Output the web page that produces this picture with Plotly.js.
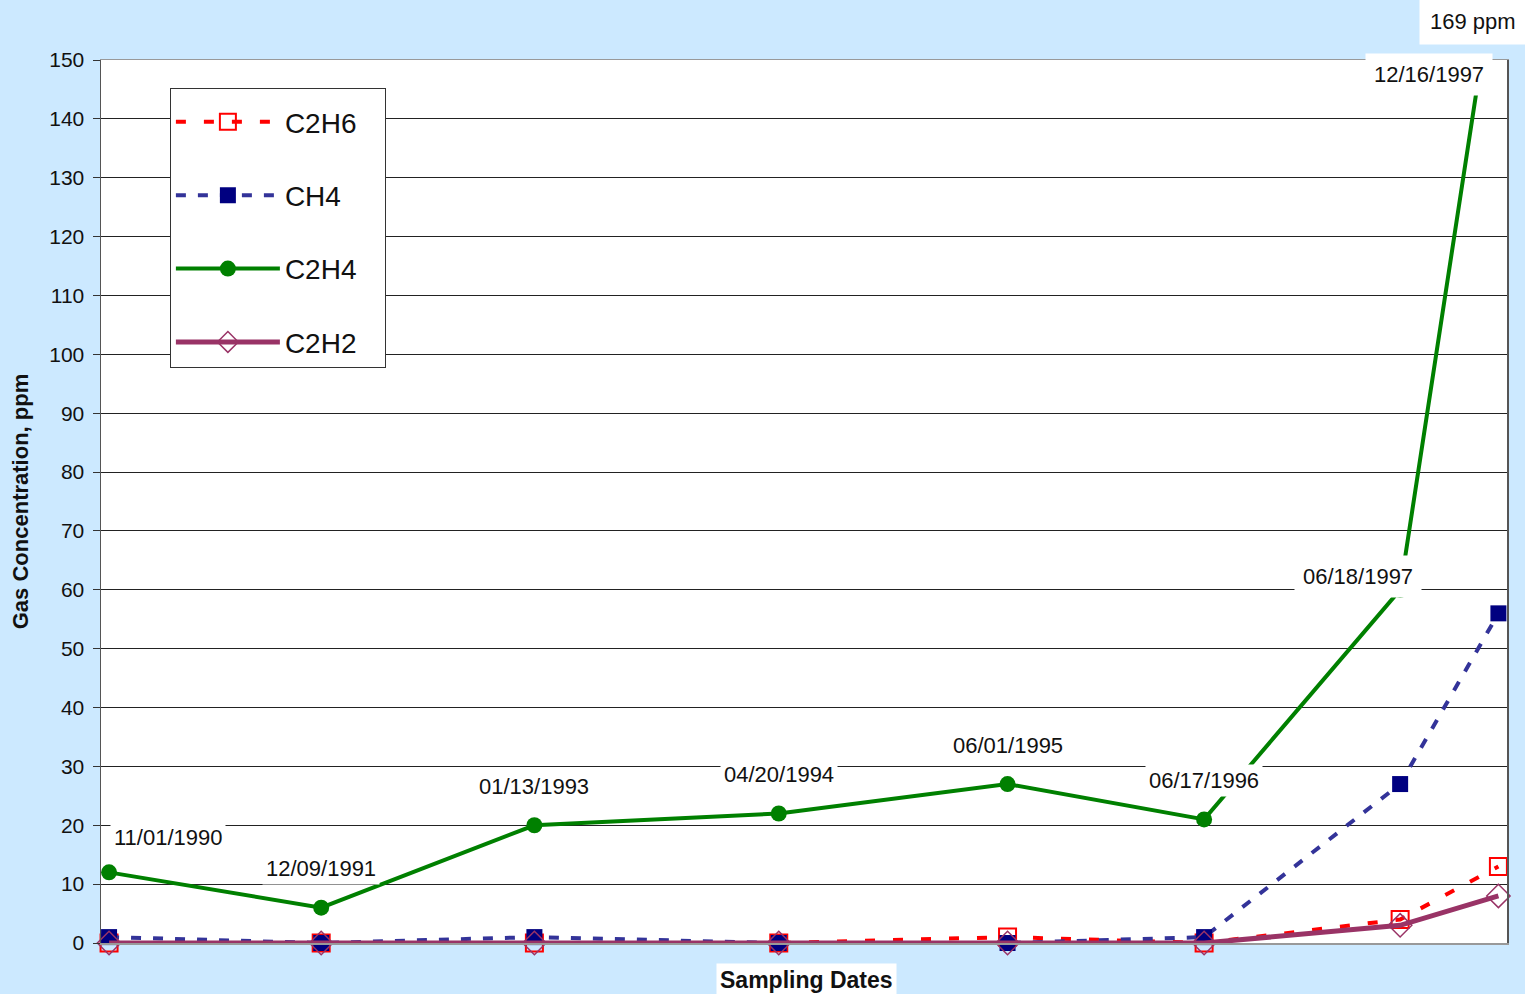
<!DOCTYPE html>
<html>
<head>
<meta charset="utf-8">
<script src="https://cdn.plot.ly/plotly-3.0.1.min.js"></script>
<style>
  html, body { margin: 0; padding: 0; background: #CCE9FF; }
  #chart { width: 1525px; height: 994px; }
</style>
</head>
<body>
<div id="chart"></div>
<script>
// Sampling dates (as printed) and the month each sample falls in.
// The time axis uses a monthly base unit, so each point sits mid-month.
const sampleDates = ['11/01/1990', '12/09/1991', '01/13/1993', '04/20/1994',
                     '06/01/1995', '06/17/1996', '06/18/1997', '12/16/1997'];
const sampleMonths = ['1990-11-16', '1991-12-16', '1993-01-16', '1994-04-16',
                      '1995-06-16', '1996-06-16', '1997-06-16', '1997-12-16'];

// Dissolved gas concentrations, ppm
const c2h6 = [0, 0, 0, 0, 1, 0, 4, 13];
const ch4  = [1, 0, 1, 0, 0, 1, 27, 56];
const c2h4 = [12, 6, 20, 22, 27, 21, 60, 169];
const c2h2 = [0, 0, 0, 0, 0, 0, 3, 8];

const yTicks = [0, 10, 20, 30, 40, 50, 60, 70, 80, 90, 100, 110, 120, 130, 140, 150];

const FONT = 'Liberation Sans, Arial, sans-serif';
// non-breaking spaces keep some room to the right of each legend entry
const PAD = '\u00a0\u00a0\u00a0';

const traces = [
  {
    name: 'C2H6' + PAD, x: sampleMonths, y: c2h6, mode: 'lines+markers', legendgroup: 'a',
    line: { color: '#FF0000', width: 4, dash: '10px,18px' },
    marker: { symbol: 'square-open', size: 17, color: '#FF0000', line: { width: 2 } },
    cliponaxis: false
  },
  {
    name: 'CH4' + PAD, x: sampleMonths, y: ch4, mode: 'lines+markers', legendgroup: 'b',
    line: { color: '#333399', width: 4, dash: '10px,12px' },
    marker: { symbol: 'square', size: 16, color: '#000080' },
    cliponaxis: false
  },
  {
    name: 'C2H4' + PAD, x: sampleMonths, y: c2h4, mode: 'lines+markers', legendgroup: 'c',
    line: { color: '#008000', width: 4 },
    marker: { symbol: 'circle', size: 16, color: '#008000' },
    cliponaxis: true
  },
  {
    name: 'C2H2' + PAD, x: sampleMonths, y: c2h2, mode: 'lines+markers', legendgroup: 'd',
    line: { color: '#993366', width: 5 },
    marker: { symbol: 'diamond', size: 18, color: 'rgba(255,255,255,0)',
              line: { color: '#993366', width: 1.5 } },
    cliponaxis: false
  }
];

// Date labels above the C2H4 points
const labelFont = { family: FONT, size: 22, color: '#111' };
const annotations = sampleDates.map((d, i) => {
  const a = {
    x: sampleMonths[i], y: c2h4[i], xref: 'x', yref: 'y',
    text: d, showarrow: false, font: labelFont, yanchor: 'middle',
    bgcolor: '#FFFFFF', borderpad: 3, xshift: 0, yshift: 39
  };
  if (i === 0) { a.xshift = 59; a.yshift = 35; }
  if (i === 6) { a.xshift = -42; a.yshift = 13; a.borderpad = 8; }
  if (i === 7) { a.y = 1; a.yref = 'paper'; a.xshift = -69; a.yshift = -14; a.borderpad = 8; }
  return a;
});
// Off-scale value of the last C2H4 sample
annotations.push({
  x: sampleMonths[7], y: 1, xref: 'x', yref: 'paper', yanchor: 'middle',
  text: c2h4[7] + ' ppm', showarrow: false, font: labelFont,
  bgcolor: '#FFFFFF', borderpad: 10, xshift: -25, yshift: 39
});
// Horizontal axis title
annotations.push({
  x: 0.502, y: 0, xref: 'paper', yref: 'paper', yanchor: 'top',
  text: '<b>Sampling Dates</b>', showarrow: false,
  font: { family: FONT, size: 23, color: '#111' },
  bgcolor: '#FFFFFF', borderpad: 3, yshift: -20
});

const layout = {
  width: 1525, height: 994,
  paper_bgcolor: '#CCE9FF', plot_bgcolor: '#FFFFFF',
  margin: { l: 101, r: 18, t: 60, b: 51 },
  font: { family: FONT, size: 20, color: '#111' },
  showlegend: true,
  legend: {
    x: 0.049, y: 0.968, xanchor: 'left', yanchor: 'top',
    bgcolor: '#FFFFFF', bordercolor: '#333', borderwidth: 1,
    font: { family: FONT, size: 28, color: '#111' },
    title: { text: ' ', font: { size: 6 } },
    traceorder: 'grouped', tracegroupgap: 34, itemwidth: 104, itemsizing: 'trace'
  },
  xaxis: {
    type: 'date', range: ['1990-11-01', '1998-01-01'],
    showticklabels: false, ticks: '', showgrid: false, zeroline: false,
    showline: true, linecolor: '#999', linewidth: 1.5, mirror: true
  },
  yaxis: {
    range: [0, 150], tickvals: yTicks, ticktext: yTicks.map(String),
    ticks: 'outside', ticklen: 7, tickcolor: '#333', tickwidth: 1,
    ticklabelstandoff: 4,
    tickfont: { family: FONT, size: 21, color: '#111' },
    showgrid: true, gridcolor: '#222', gridwidth: 1, zeroline: false,
    showline: true, linecolor: '#555', linewidth: 1.5, mirror: true,
    title: { text: '<b>Gas Concentration, ppm</b>', font: { family: FONT, size: 22, color: '#111' }, standoff: 14 }
  },
  annotations: annotations
};

Plotly.newPlot('chart', traces, layout, { displayModeBar: false, staticPlot: true });
</script>
</body>
</html>
